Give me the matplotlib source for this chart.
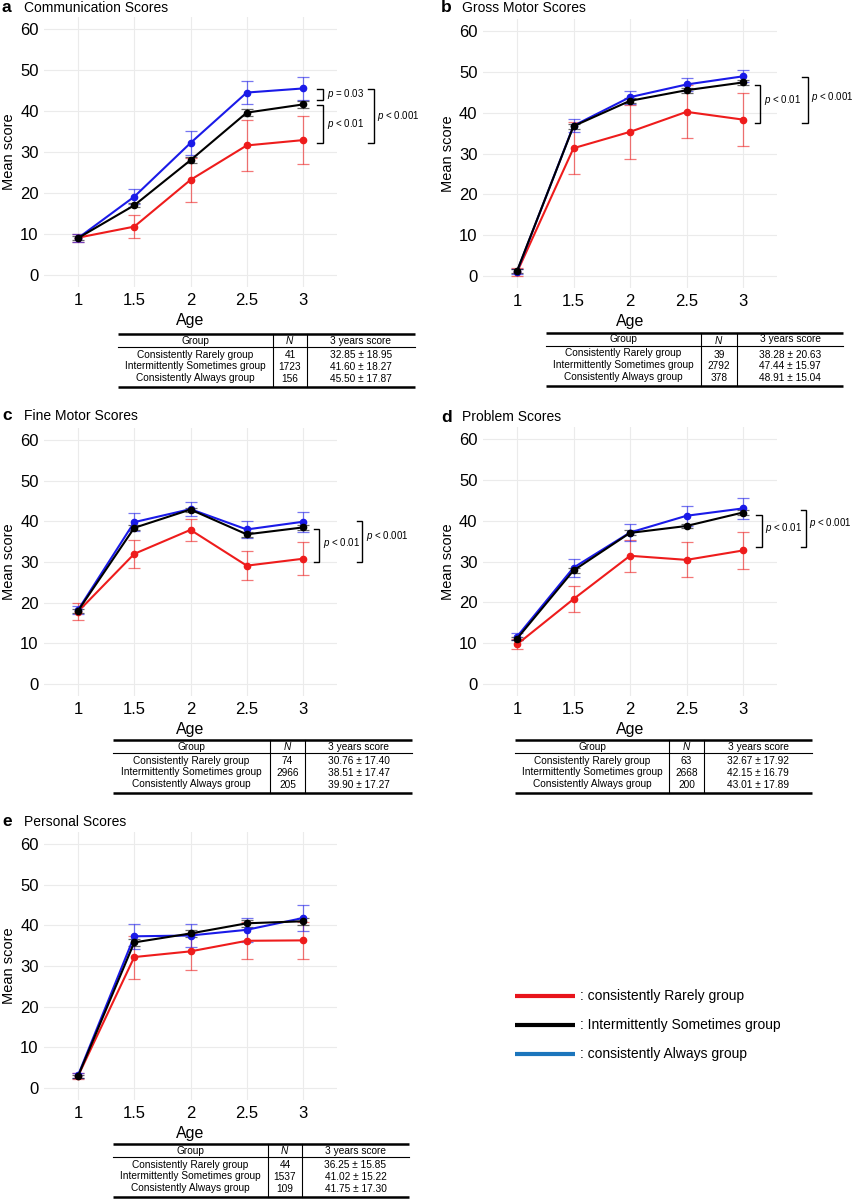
import matplotlib
matplotlib.use("Agg")
import matplotlib.pyplot as plt

plt.rcParams['font.family'] = ['Liberation Sans', 'DejaVu Sans']
plt.rcParams['mathtext.fontset'] = 'custom'
plt.rcParams['mathtext.it'] = 'Liberation Sans:italic'
plt.rcParams['mathtext.rm'] = 'Liberation Sans'

# ---- data ----
ages = [1, 1.5, 2, 2.5, 3]
age_labels = ['1', '1.5', '2', '2.5', '3']
group_names = ['Consistently Rarely group', 'Intermittently Sometimes group', 'Consistently Always group']

comm_rarely = [9.1, 11.8, 23.2, 31.6, 32.9]
comm_rarely_err = [1.0, 2.8, 5.4, 6.2, 5.8]
comm_sometimes = [9.0, 17.0, 28.0, 39.6, 41.6]
comm_sometimes_err = [0.4, 0.5, 0.8, 0.8, 0.8]
comm_always = [9.0, 19.1, 32.2, 44.5, 45.5]
comm_always_err = [0.9, 1.9, 2.9, 2.9, 2.8]

gross_rarely = [0.9, 31.3, 35.3, 40.2, 38.3]
gross_rarely_err = [1.0, 6.3, 6.6, 6.5, 6.4]
gross_sometimes = [1.2, 36.7, 42.9, 45.5, 47.4]
gross_sometimes_err = [0.4, 0.6, 0.6, 0.6, 0.6]
gross_always = [1.1, 36.8, 43.8, 46.9, 48.9]
gross_always_err = [0.5, 1.6, 1.6, 1.6, 1.5]

fine_rarely = [17.8, 32.0, 37.9, 29.1, 30.8]
fine_rarely_err = [2.0, 3.4, 2.7, 3.5, 4.0]
fine_sometimes = [18.0, 38.4, 42.9, 36.8, 38.5]
fine_sometimes_err = [0.5, 0.6, 0.5, 0.6, 0.6]
fine_always = [18.2, 39.8, 43.0, 38.0, 39.9]
fine_always_err = [1.1, 2.2, 1.7, 2.2, 2.4]

prob_rarely = [9.7, 20.8, 31.4, 30.4, 32.7]
prob_rarely_err = [1.2, 3.2, 3.9, 4.3, 4.5]
prob_sometimes = [11.1, 27.8, 37.0, 38.7, 42.0]
prob_sometimes_err = [0.4, 0.6, 0.6, 0.6, 0.6]
prob_always = [11.6, 28.5, 37.1, 41.2, 43.0]
prob_always_err = [0.8, 2.2, 2.2, 2.4, 2.5]

pers_rarely = [2.9, 32.2, 33.6, 36.2, 36.3]
pers_rarely_err = [0.8, 5.3, 4.5, 4.6, 4.6]
pers_sometimes = [2.9, 35.8, 38.0, 40.5, 41.0]
pers_sometimes_err = [0.4, 0.8, 0.8, 0.8, 0.8]
pers_always = [3.1, 37.3, 37.5, 38.9, 41.8]
pers_always_err = [0.7, 3.1, 2.8, 2.9, 3.2]

comm_n = ['41', '1723', '156']
comm_score = ['32.85 ± 18.95', '41.60 ± 18.27', '45.50 ± 17.87']
gross_n = ['39', '2792', '378']
gross_score = ['38.28 ± 20.63', '47.44 ± 15.97', '48.91 ± 15.04']
fine_n = ['74', '2966', '205']
fine_score = ['30.76 ± 17.40', '38.51 ± 17.47', '39.90 ± 17.27']
prob_n = ['63', '2668', '200']
prob_score = ['32.67 ± 17.92', '42.15 ± 16.79', '43.01 ± 17.89']
pers_n = ['44', '1537', '109']
pers_score = ['36.25 ± 15.85', '41.02 ± 15.22', '41.75 ± 17.30']

# brackets: (y_top, y_bottom, x_tick, x_line, text_x, text_y, label)
comm_brackets = [(45.4, 42.8, 3.124, 3.178, 3.215, 44.1, '$p$ = 0.03'),
                 (41.5, 32.2, 3.124, 3.178, 3.215, 36.8, '$p$ < 0.01'),
                 (45.4, 32.2, 3.578, 3.631, 3.660, 38.9, '$p$ < 0.001')]
gross_brackets = [(46.8, 37.4, 3.106, 3.150, 3.185, 43.1, '$p$ < 0.01'),
                  (48.8, 37.4, 3.522, 3.575, 3.605, 43.9, '$p$ < 0.001')]
fine_brackets = [(38.2, 30.1, 3.098, 3.142, 3.177, 34.6, '$p$ < 0.01'),
                 (40.2, 30.1, 3.480, 3.524, 3.559, 36.4, '$p$ < 0.001')]
prob_brackets = [(41.4, 33.5, 3.115, 3.168, 3.197, 38.2, '$p$ < 0.01'),
                 (42.7, 33.5, 3.513, 3.558, 3.585, 39.4, '$p$ < 0.001')]

RED = '#ee1c1c'
BLACK = '#000000'
BLUE = '#1a1ae8'

W, H = 852, 1200
fig = plt.figure(figsize=(W / 100, H / 100), dpi=100)


def px_rect(left, right, top, bottom):
    return [left / W, 1 - bottom / H, (right - left) / W, (bottom - top) / H]


def draw_panel(rect, series, brackets):
    ax = fig.add_axes(rect)
    for mean, err, color in series:
        ax.errorbar(ages, mean, yerr=err, fmt='none', ecolor=color, alpha=0.6,
                    capsize=4.5, elinewidth=0.9, capthick=0.9, zorder=2)
    for mean, err, color in series:
        ax.plot(ages, mean, '-o', color=color, lw=1.5, ms=4.5, zorder=3)
    ax.set_xlim(0.7, 3.3)
    ax.set_ylim(-3, 63)
    ax.set_xticks(ages)
    ax.set_xticklabels(age_labels)
    ax.set_yticks(range(0, 61, 10))
    ax.grid(True, color='#ebebeb', lw=0.8)
    ax.set_axisbelow(True)
    for s in ax.spines.values():
        s.set_visible(False)
    ax.tick_params(length=0, labelsize=12, pad=4)
    ax.set_xlabel('Age', fontsize=11.5, labelpad=4)
    ax.set_ylabel('Mean score', fontsize=10.5, labelpad=3)
    for yt, yb, xt, xl, tx, ty, label in brackets:
        ax.plot([xt, xl, xl, xt], [yt, yt, yb, yb], color='black', lw=1.0,
                clip_on=False, solid_joinstyle='miter')
        ax.text(tx, ty, label, fontsize=7, va='center', ha='left', clip_on=False)
    return ax


draw_panel(px_rect(44.25, 336.75, 16.7, 287.3),
           [(comm_rarely, comm_rarely_err, RED), (comm_always, comm_always_err, BLUE),
            (comm_sometimes, comm_sometimes_err, BLACK)], comm_brackets)
draw_panel(px_rect(483.1, 776.9, 18.75, 288.25),
           [(gross_rarely, gross_rarely_err, RED), (gross_always, gross_always_err, BLUE),
            (gross_sometimes, gross_sometimes_err, BLACK)], gross_brackets)
draw_panel(px_rect(44.25, 336.75, 427.8, 696.2),
           [(fine_rarely, fine_rarely_err, RED), (fine_always, fine_always_err, BLUE),
            (fine_sometimes, fine_sometimes_err, BLACK)], fine_brackets)
draw_panel(px_rect(483.1, 776.9, 426.75, 696.25),
           [(prob_rarely, prob_rarely_err, RED), (prob_always, prob_always_err, BLUE),
            (prob_sometimes, prob_sometimes_err, BLACK)], prob_brackets)
draw_panel(px_rect(44.25, 336.75, 831.8, 1100.2),
           [(pers_rarely, pers_rarely_err, RED), (pers_always, pers_always_err, BLUE),
            (pers_sometimes, pers_sometimes_err, BLACK)], [])

# overlay in pixel coordinates for titles, tables and legend
ov = fig.add_axes([0, 0, 1, 1])
ov.set_xlim(0, W)
ov.set_ylim(H, 0)
ov.axis('off')

titles = [(2, 24, 8, 'a', 'Communication Scores'),
          (441, 462, 8, 'b', 'Gross Motor Scores'),
          (2, 24, 416, 'c', 'Fine Motor Scores'),
          (441, 462, 417, 'd', 'Problem Scores'),
          (2, 24, 822, 'e', 'Personal Scores')]
for lx, tx, ty, letter, title in titles:
    ov.text(lx, ty, letter, fontsize=12.5, fontweight='bold', va='center', ha='left')
    ov.text(tx, ty, title, fontsize=10, va='center', ha='left')


def draw_table(left, right, sep1, sep2, top, n_vals, scores):
    bottom = top + 53
    ov.plot([left, right], [top, top], color='black', lw=1.8, solid_capstyle='butt')
    ov.plot([left, right], [top + 13, top + 13], color='black', lw=0.8)
    ov.plot([left, right], [bottom, bottom], color='black', lw=1.8, solid_capstyle='butt')
    for sx in (sep1, sep2):
        ov.plot([sx, sx], [top, bottom], color='black', lw=0.8)
    c1 = (left + sep1) / 2
    c2 = (sep1 + sep2) / 2
    c3 = (sep2 + right) / 2
    fs = 7.3
    ov.text(c1, top + 6.5, 'Group', fontsize=fs, ha='center', va='center')
    ov.text(c2, top + 6.5, '$N$', fontsize=fs, ha='center', va='center')
    ov.text(c3, top + 6.5, '3 years score', fontsize=fs, ha='center', va='center')
    for i in range(3):
        y = top + 20.5 + i * 11.8
        ov.text(c1, y, group_names[i], fontsize=fs, ha='center', va='center')
        ov.text(c2, y + 1, n_vals[i], fontsize=fs, ha='center', va='center')
        ov.text(c3, y + 1, scores[i], fontsize=fs, ha='center', va='center')


draw_table(118, 415, 273, 307, 334, comm_n, comm_score)
draw_table(546, 843, 701, 737, 333, gross_n, gross_score)
draw_table(113, 412, 270, 305, 740, fine_n, fine_score)
draw_table(515, 812, 669, 704, 740, prob_n, prob_score)
draw_table(113, 409, 268, 302, 1144, pers_n, pers_score)

legend_items = [('#e8141c', ': consistently Rarely group', 996),
                ('#000000', ': Intermittently Sometimes group', 1025),
                ('#1b75bc', ': consistently Always group', 1054)]
for color, label, y in legend_items:
    ov.plot([515, 575], [y, y], color=color, lw=3, solid_capstyle='butt')
    ov.text(580, y, label, fontsize=10, va='center', ha='left')

fig.savefig('out.png', dpi=100)
